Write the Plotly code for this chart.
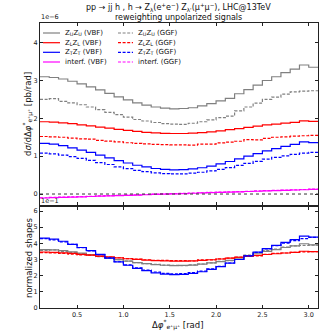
import numpy as np
import plotly.graph_objects as go
from plotly.subplots import make_subplots

# histogram bin edges [rad]
BIN_EDGES = [0.1, 0.2, 0.3, 0.4, 0.5, 0.6, 0.7, 0.8, 0.9, 1.0, 1.1, 1.2, 1.3, 1.4, 1.5, 1.6,
             1.7, 1.8, 1.9, 2.0, 2.1, 2.2, 2.3, 2.4, 2.5, 2.6, 2.7, 2.8, 2.9, 3.0, 3.1]

# dsigma/dDphi, in units of 1e-6 pb/rad
UU_VBF = [3.10, 3.08, 3.04, 2.98, 2.91, 2.83, 2.75, 2.66, 2.57, 2.49, 2.41, 2.35, 2.30, 2.27, 2.25,
          2.26, 2.28, 2.33, 2.39, 2.46, 2.53, 2.65, 2.76, 2.88, 3.00, 3.10, 3.21, 3.30, 3.41, 3.35]
UU_GGF = [2.50, 2.52, 2.45, 2.41, 2.36, 2.30, 2.23, 2.16, 2.10, 2.03, 1.97, 1.93, 1.89, 1.86, 1.85,
          1.84, 1.87, 1.91, 1.96, 2.02, 2.06, 2.20, 2.30, 2.40, 2.50, 2.56, 2.64, 2.70, 2.72, 2.73]
LL_VBF = [1.91, 1.90, 1.88, 1.86, 1.83, 1.80, 1.77, 1.74, 1.71, 1.68, 1.655, 1.63, 1.615, 1.605, 1.60,
          1.60, 1.61, 1.625, 1.645, 1.67, 1.70, 1.73, 1.76, 1.795, 1.825, 1.85, 1.875, 1.895, 1.935, 1.92]
LL_GGF = [1.52, 1.51, 1.50, 1.48, 1.46, 1.45, 1.42, 1.40, 1.38, 1.355, 1.34, 1.325, 1.31, 1.305, 1.30,
          1.30, 1.29, 1.32, 1.32, 1.35, 1.37, 1.395, 1.44, 1.43, 1.47, 1.50, 1.51, 1.53, 1.54, 1.55]
TT_VBF = [1.34, 1.32, 1.28, 1.22, 1.16, 1.10, 1.03, 0.955, 0.885, 0.82, 0.76, 0.715, 0.675, 0.65, 0.64,
          0.645, 0.665, 0.695, 0.74, 0.795, 0.86, 0.93, 1.00, 1.07, 1.14, 1.20, 1.26, 1.31, 1.38, 1.36]
TT_GGF = [1.08, 1.06, 1.03, 0.99, 0.94, 0.89, 0.83, 0.78, 0.72, 0.67, 0.625, 0.59, 0.56, 0.54, 0.53,
          0.535, 0.55, 0.575, 0.61, 0.65, 0.70, 0.755, 0.81, 0.865, 0.92, 0.97, 1.01, 1.05, 1.08, 1.10]
INT_VBF = [-0.105, -0.097, -0.089, -0.082, -0.074, -0.066, -0.058, -0.050, -0.043, -0.035, -0.027,
           -0.019, -0.011, -0.004, 0.004, 0.012, 0.020, 0.028, 0.035, 0.043, 0.051, 0.059, 0.067,
           0.074, 0.082, 0.090, 0.098, 0.106, 0.113, 0.121]
INT_GGF = [-0.098, -0.091, -0.083, -0.074, -0.067, -0.060, -0.051, -0.044, -0.036, -0.028, -0.021,
           -0.012, -0.005, 0.003, 0.011, 0.018, 0.027, 0.034, 0.042, 0.049, 0.058, 0.066, 0.073,
           0.081, 0.089, 0.096, 0.105, 0.112, 0.120, 0.128]

XTICKS = [0.5, 1.0, 1.5, 2.0, 2.5, 3.0]
XTICK_LABELS = ["0.5", "1.0", "1.5", "2.0", "2.5", "3.0"]
YTICKS_TOP = [0, 1, 2, 3, 4]
YTICKS_BOT = [0, 1, 2, 3, 4, 5, 6]

GREY, RED, BLUE, MAGENTA = "#808080", "#ff0000", "#0000ff", "#ff00ff"
FONT = "DejaVu Sans"
DASH = "3px,1.6px"

SERIES = [
    ("Z<sub>U</sub>Z<sub>U</sub> (VBF)", UU_VBF, GREY, "solid", True),
    ("Z<sub>U</sub>Z<sub>U</sub> (GGF)", UU_GGF, GREY, DASH, True),
    ("Z<sub>L</sub>Z<sub>L</sub> (VBF)", LL_VBF, RED, "solid", True),
    ("Z<sub>L</sub>Z<sub>L</sub> (GGF)", LL_GGF, RED, DASH, True),
    ("Z<sub>T</sub>Z<sub>T</sub> (VBF)", TT_VBF, BLUE, "solid", True),
    ("Z<sub>T</sub>Z<sub>T</sub> (GGF)", TT_GGF, BLUE, DASH, True),
    ("interf. (VBF)", INT_VBF, MAGENTA, "solid", False),
    ("interf. (GGF)", INT_GGF, MAGENTA, DASH, False),
]


def step_xy(vals):
    return BIN_EDGES, list(vals) + [vals[-1]]


fig = make_subplots(rows=2, cols=1)

for name, vals, color, dash, in_shapes in SERIES:
    x, y = step_xy(vals)
    fig.add_trace(go.Scatter(x=x, y=y, mode="lines", line_shape="hv", name=name,
                             line=dict(color=color, width=1.2, dash=dash), showlegend=False),
                  row=1, col=1)
    if in_shapes:
        v = np.array(vals)
        norm = v / (v.sum() * np.pi / len(v)) * 10  # shown in units of 1e-1
        x, y = step_xy(norm.tolist())
        fig.add_trace(go.Scatter(x=x, y=y, mode="lines", line_shape="hv", name=name,
                                 line=dict(color=color, width=1.2, dash=dash), showlegend=False),
                      row=2, col=1)

fig.add_hline(y=0, row=1, col=1, line=dict(color="#333333", width=1, dash="dot"))

# pixel helpers for the 332x332 canvas
L, T, W, H = 40, 23, 278, 285


def px(xp):
    return (xp - L) / W


def py(yp):
    return (T + H - yp) / H


axis_common = dict(showline=True, linecolor="#222222", linewidth=1, mirror="ticks",
                   ticks="inside", ticklen=3, tickcolor="#222222", showgrid=False,
                   zeroline=False, automargin=False,
                   tickfont=dict(size=6.5, color="#222222", family=FONT))

fig.update_xaxes(range=[0.1, 3.1], tickvals=XTICKS, **axis_common)
fig.update_xaxes(showticklabels=False, row=1, col=1)
fig.update_xaxes(ticktext=XTICK_LABELS, row=2, col=1)
fig.update_yaxes(**axis_common)
fig.update_yaxes(range=[-0.29, 4.52], tickvals=YTICKS_TOP, row=1, col=1)
fig.update_yaxes(range=[0, 6.25], tickvals=YTICKS_BOT, row=2, col=1)

fig.update_layout(
    width=332, height=332,
    margin=dict(l=L, r=332 - L - W, t=T, b=332 - T - H, autoexpand=False),
    paper_bgcolor="white", plot_bgcolor="white",
    font=dict(family=FONT, color="black"),
    yaxis=dict(domain=[py(205), 1.0]),
    yaxis2=dict(domain=[0.0, py(207)]),
    showlegend=False,
)

ann = []
# titles
ann.append(dict(text="pp → jj h , h → Z<sub>λ</sub>(e<sup>+</sup>e<sup>−</sup>) Z<sub>λ'</sub>"
                     "(μ<sup>+</sup>μ<sup>−</sup>), LHC@13TeV",
                x=px(178), y=py(1), yanchor="top", font=dict(size=8)))
ann.append(dict(text="reweighting unpolarized signals", x=px(178), y=py(17.5), font=dict(size=8)))
# axis titles
ann.append(dict(text="d<i>σ</i>/dΔ<i>φ</i><sup>*</sup><sub>e⁺μ⁺</sub> [pb/rad]",
                x=px(27), y=py(114), textangle=-90, font=dict(size=8.5)))
ann.append(dict(text="normalized shapes", x=px(29), y=py(258), textangle=-90, font=dict(size=8.5)))
ann.append(dict(text="Δ<i>φ</i><sup>*</sup><sub>e⁺μ⁺</sub> [rad]", x=px(178), y=py(332),
                yanchor="bottom", font=dict(size=8.5)))
# offset labels
ann.append(dict(text="1e−6", x=px(40), y=py(17), xanchor="left", font=dict(size=6.5)))
ann.append(dict(text="1e−1", x=px(40), y=py(201), xanchor="left", font=dict(size=6.5)))

# legend, two columns
shapes = []
rows_y = [33, 42.7, 52.3, 62]
cols = [(43, 60, 64), (118, 133, 137)]
for k, (name, vals, color, dash, _) in enumerate(SERIES):
    r, c = k // 2, k % 2
    x0, x1, xt = cols[c]
    yy = py(rows_y[r])
    shapes.append(dict(type="line", xref="paper", yref="paper", x0=px(x0), x1=px(x1), y0=yy, y1=yy,
                       line=dict(color=color, width=1.2, dash=dash)))
    ann.append(dict(text=name, x=px(xt), y=yy, xanchor="left", font=dict(size=7)))

for a in ann:
    a.setdefault("xanchor", "center")
    a.setdefault("yanchor", "middle")
    a.update(xref="paper", yref="paper", showarrow=False, borderpad=0)
    a["font"].setdefault("family", FONT)
    a["font"].setdefault("color", "#111111")

fig.update_layout(annotations=ann, shapes=list(fig.layout.shapes) + shapes)

# drop the browser's default 8px body margin so the canvas sits at the window origin
fig.write_html("out.html", config={"displayModeBar": False},
               post_script="document.body.style.margin='0';")
